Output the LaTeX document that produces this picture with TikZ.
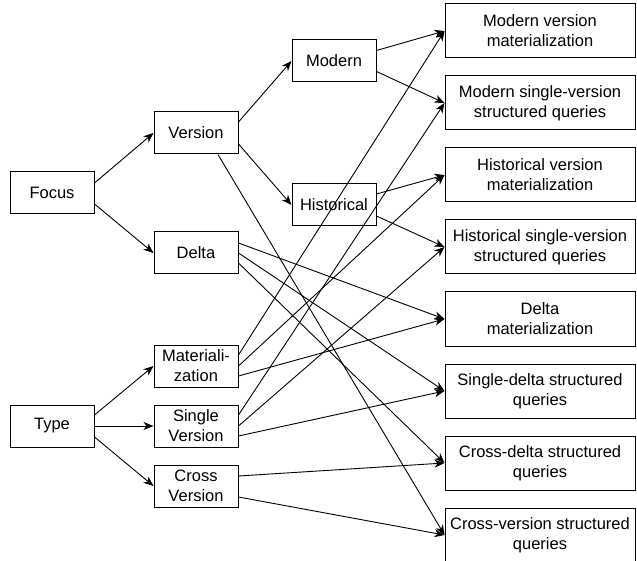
\documentclass[tikz,border=0pt]{standalone}
\usepackage{fontspec}
\setmainfont{Liberation Sans}
\usetikzlibrary{arrows.meta}
\tikzset{
  box/.style={draw=black, line width=1pt, fill=white, inner sep=0pt, align=center, font=\fontsize{16.5}{20}\selectfont},
  small/.style={box, minimum width=84pt, minimum height=42pt},
  big/.style={box, minimum width=190pt, minimum height=54pt},
  arr/.style={draw=black, line width=0.9pt, -{Stealth[length=10pt,width=8pt,inset=3pt]}},
}
\begin{document}
\begin{tikzpicture}[x=1pt,y=-1pt]
\useasboundingbox (0,0) rectangle (637,561);
% left column
\node[small] (focus) at (52,193) {Focus};
\node[small] (type) at (52,426) {Type};
% middle column
\node[small] (version) at (196,133) {Version};
\node[small] (delta) at (196,253) {Delta};
\node[small] (mat) at (196,366) {Materiali-\\zation};
\node[small] (single) at (196,426) {Single\\Version};
\node[small] (cross) at (196,486) {Cross\\Version};
% second column
\node[small] (modern) at (334,61) {Modern};
\node[small] (hist) at (334,205) {Historical};
% right column
\node[big] (r1) at (540,31) {Modern version\\materialization};
\node[big] (r2) at (540,103) {Modern single-version\\structured queries};
\node[big] (r3) at (540,175) {Historical version\\materialization};
\node[big] (r4) at (540,247) {Historical single-version\\structured queries};
\node[big] (r5) at (540,319) {Delta\\materialization};
\node[big] (r6) at (540,391) {Single-delta structured\\queries};
\node[big] (r7) at (540,463) {Cross-delta structured\\queries};
\node[big] (r8) at (540,535) {Cross-version structured\\queries};
% edges from Focus and Type
\draw[arr] ([yshift=10pt]focus.east) -- (version.west);
\draw[arr] ([yshift=-11pt]focus.east) -- (delta.west);
\draw[arr] ([yshift=11pt]type.east) -- (mat.west);
\draw[arr] (type.east) -- (single.west);
\draw[arr] ([yshift=-11pt]type.east) -- (cross.west);
% Version
\draw[arr] ([yshift=11pt]version.east) -- (modern.west);
\draw[arr] ([yshift=-11pt]version.east) -- (hist.west);
\draw[arr] ([xshift=22pt]version.south) -- (r8.west);
% Modern, Historical
\draw[arr] ([yshift=10.5pt]modern.east) -- (r1.west);
\draw[arr] ([yshift=-10.5pt]modern.east) -- (r2.west);
\draw[arr] ([yshift=11pt]hist.east) -- (r3.west);
\draw[arr] ([yshift=-11pt]hist.east) -- (r4.west);
% Delta
\draw[arr] ([yshift=10pt]delta.east) -- (r5.west);
\draw[arr] (delta.east) -- (r6.west);
\draw[arr] ([yshift=-10pt]delta.east) -- (r7.west);
% Materialization
\draw[arr] ([yshift=11pt]mat.east) -- (r1.west);
\draw[arr] (mat.east) -- (r3.west);
\draw[arr] ([yshift=-10pt]mat.east) -- (r5.west);
% Single Version
\draw[arr] ([yshift=11pt]single.east) -- (r2.west);
\draw[arr] (single.east) -- (r4.west);
\draw[arr] ([yshift=-10pt]single.east) -- (r6.west);
% Cross Version
\draw[arr] ([yshift=10pt]cross.east) -- (r7.west);
\draw[arr] ([yshift=-11pt]cross.east) -- (r8.west);
\end{tikzpicture}
\end{document}
